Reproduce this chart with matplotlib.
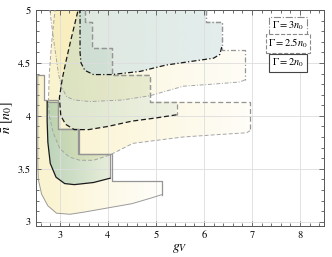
import matplotlib
matplotlib.use("Agg")
import numpy as np
import matplotlib.pyplot as plt
from matplotlib.patches import Polygon
from matplotlib.colors import to_rgb
from matplotlib.ticker import MultipleLocator, FuncFormatter

plt.rcParams["font.family"] = ["STIXGeneral", "DejaVu Serif"]
plt.rcParams["mathtext.fontset"] = "stix"

# Gamma = 2 n0 (solid)
inner_curve_2 = [(4.04, 3.41), (3.7, 3.37), (3.3, 3.35), (3.1, 3.36), (2.92, 3.42),
                 (2.8, 3.55), (2.75, 3.75), (2.735, 3.95), (2.735, 4.135)]
inner_steps_2 = [(2.735, 4.135), (2.97, 4.135), (2.97, 3.88), (3.38, 3.88), (3.38, 3.64),
                 (4.04, 3.64), (4.04, 3.41)]
outer_curve_2 = [(5.12, 3.255), (4.875, 3.22), (4.5, 3.17), (4.0, 3.13), (3.5, 3.09),
                 (3.21, 3.07), (2.93, 3.08), (2.75, 3.15), (2.62, 3.26), (2.55, 3.40),
                 (2.54, 3.55), (2.54, 4.39)]
outer_steps_2 = [(2.54, 4.39), (2.667, 4.39), (2.667, 4.15), (2.97, 4.15), (2.97, 3.88),
                 (3.4, 3.88), (3.4, 3.64), (4.08, 3.64), (4.08, 3.38), (5.12, 3.38),
                 (5.12, 3.255)]

# Gamma = 2.5 n0 (dashed)
inner_curve_25 = [(5.43, 4.01), (5.0, 3.98), (4.5, 3.95), (4.0, 3.9), (3.6, 3.87),
                  (3.3, 3.87), (3.12, 3.92), (3.02, 4.0), (2.99, 4.17), (3.05, 4.35),
                  (3.12, 4.5), (3.22, 4.7), (3.3, 4.85), (3.38, 5.0)]
inner_steps_25 = [(3.52, 5.0), (3.52, 4.89), (3.66, 4.89), (3.66, 4.64), (4.077, 4.64),
                  (4.077, 4.39), (4.875, 4.39), (4.875, 4.135), (5.43, 4.135), (5.43, 4.01)]
outer_curve_25 = [(6.96, 3.86), (6.89, 3.84), (6.2, 3.82), (5.56, 3.80), (4.52, 3.74),
                  (4.04, 3.63), (3.7, 3.58), (3.42, 3.58), (3.2, 3.61), (3.0, 3.69),
                  (2.86, 3.84), (2.78, 4.0), (2.76, 4.12), (2.78, 4.4), (2.83, 4.7),
                  (2.9, 5.0)]
outer_steps_25 = [(3.52, 5.0), (3.52, 4.89), (3.66, 4.89), (3.66, 4.64), (4.077, 4.64),
                  (4.077, 4.39), (4.875, 4.39), (4.875, 4.135), (6.96, 4.135), (6.96, 3.86)]

# Gamma = 3 n0 (dash-dot)
inner_curve_3 = [(6.37, 4.65), (6.33, 4.58), (6.2, 4.545), (5.21, 4.48), (4.67, 4.42),
                 (4.08, 4.39), (3.7, 4.39), (3.52, 4.43), (3.44, 4.5), (3.42, 4.6),
                 (3.42, 5.0)]
inner_steps_3 = [(6.04, 5.0), (6.04, 4.89), (6.37, 4.89), (6.37, 4.65)]
outer_curve_3 = [(6.85, 4.34), (6.75, 4.32), (6.2, 4.30), (5.57, 4.28), (4.875, 4.19),
                 (4.3, 4.15), (3.625, 4.135), (3.3, 4.15), (3.14, 4.18), (3.03, 4.28),
                 (2.97, 4.4), (2.93, 4.53), (2.86, 4.75), (2.79, 5.0)]
outer_steps_3 = [(6.04, 5.0), (6.04, 4.89), (6.37, 4.89), (6.37, 4.62), (6.85, 4.62),
                 (6.85, 4.34)]

legend_labels = [r"$\Gamma = 3n_0$", r"$\Gamma = 2.5n_0$", r"$\Gamma = 2n_0$"]

XLIM = (2.5, 8.5)
YLIM = (2.96, 5.0)
DASH = (0, (4, 2.2))
DASHDOT = (0, (4, 1.8, 1, 1.8))

regions = [
    # curve, steps, fill colour, alpha left, alpha right, curve colour, curve width, linestyle
    (outer_curve_2, outer_steps_2, "#f7e9a6", 0.55, 0.05, "#9a9a9a", 0.7, "-"),
    (outer_curve_25, outer_steps_25, "#f7e9a6", 0.55, 0.08, "#a5a5a5", 0.7, DASH),
    (outer_curve_3, outer_steps_3, "#f7e9a6", 0.45, 0.10, "#a5a5a5", 0.7, DASHDOT),
    (inner_curve_2, inner_steps_2, "#93c0ab", 0.6, 0.2, "#1a1a1a", 0.9, "-"),
    (inner_curve_25, inner_steps_25, "#a4cbc6", 0.35, 0.15, "#1a1a1a", 0.9, DASH),
    (inner_curve_3, inner_steps_3, "#bcd8e6", 0.45, 0.4, "#1a1a1a", 0.9, DASHDOT),
]

fig = plt.figure(figsize=(3.32, 2.57), dpi=100)
ax = fig.add_axes([0.108, 0.121, 0.868, 0.84])

xg = np.linspace(XLIM[0], XLIM[1], 300)
for curve, steps, fc, a0, a1, lc, lw, ls in regions:
    poly = curve + steps
    xmin = min(p[0] for p in poly)
    xmax = max(p[0] for p in poly)
    img = np.zeros((2, len(xg), 4))
    img[..., :3] = to_rgb(fc)
    img[..., 3] = np.interp(xg, [xmin, xmax], [a0, a1])
    im = ax.imshow(img, extent=[XLIM[0], XLIM[1], YLIM[0], YLIM[1]], aspect="auto",
                   origin="lower", interpolation="bilinear", zorder=1)
    clip = Polygon(poly, closed=True, fc="none", ec="none", transform=ax.transData)
    ax.add_patch(clip)
    im.set_clip_path(clip)

for curve, steps, fc, a0, a1, lc, lw, ls in regions:
    ax.plot([p[0] for p in steps], [p[1] for p in steps], color="#959595", lw=0.9,
            ls=ls, zorder=3)
for curve, steps, fc, a0, a1, lc, lw, ls in regions:
    ax.plot([p[0] for p in curve], [p[1] for p in curve], color=lc, lw=lw, ls=ls, zorder=4)

ax.set_xlim(*XLIM)
ax.set_ylim(*YLIM)
ax.xaxis.set_major_locator(MultipleLocator(1))
ax.xaxis.set_minor_locator(MultipleLocator(0.2))
ax.yaxis.set_major_locator(MultipleLocator(0.5))
ax.yaxis.set_minor_locator(MultipleLocator(0.1))
ax.yaxis.set_major_formatter(FuncFormatter(lambda v, p: f"{v:g}"))
ax.tick_params(which="both", direction="in", top=True, right=True, labelsize=7.5,
               color="#555555", width=0.6)
ax.tick_params(which="major", length=3.5)
ax.tick_params(which="minor", length=2)
ax.grid(True, which="major", color="#dddddd", lw=0.6, zorder=0)
for s in ax.spines.values():
    s.set_linewidth(0.7)
    s.set_color("#555555")

ax.set_xlabel(r"$g_V$", fontsize=10, labelpad=1)
ax.set_ylabel(r"$\bar{n}\ [n_0]$", fontsize=10, labelpad=2)

box_styles = ["-.", "--", "-"]
box_y = [0.925, 0.845, 0.755]
for lab, bs, by in zip(legend_labels, box_styles, box_y):
    ax.text(0.875, by, lab, transform=ax.transAxes, ha="center", va="center", fontsize=7.5,
            zorder=6, bbox=dict(boxstyle="square,pad=0.25", fc="white",
                                ec="#444444" if bs == "-" else "#888888", lw=0.8, ls=bs))

fig.savefig("out.png", dpi=100)
